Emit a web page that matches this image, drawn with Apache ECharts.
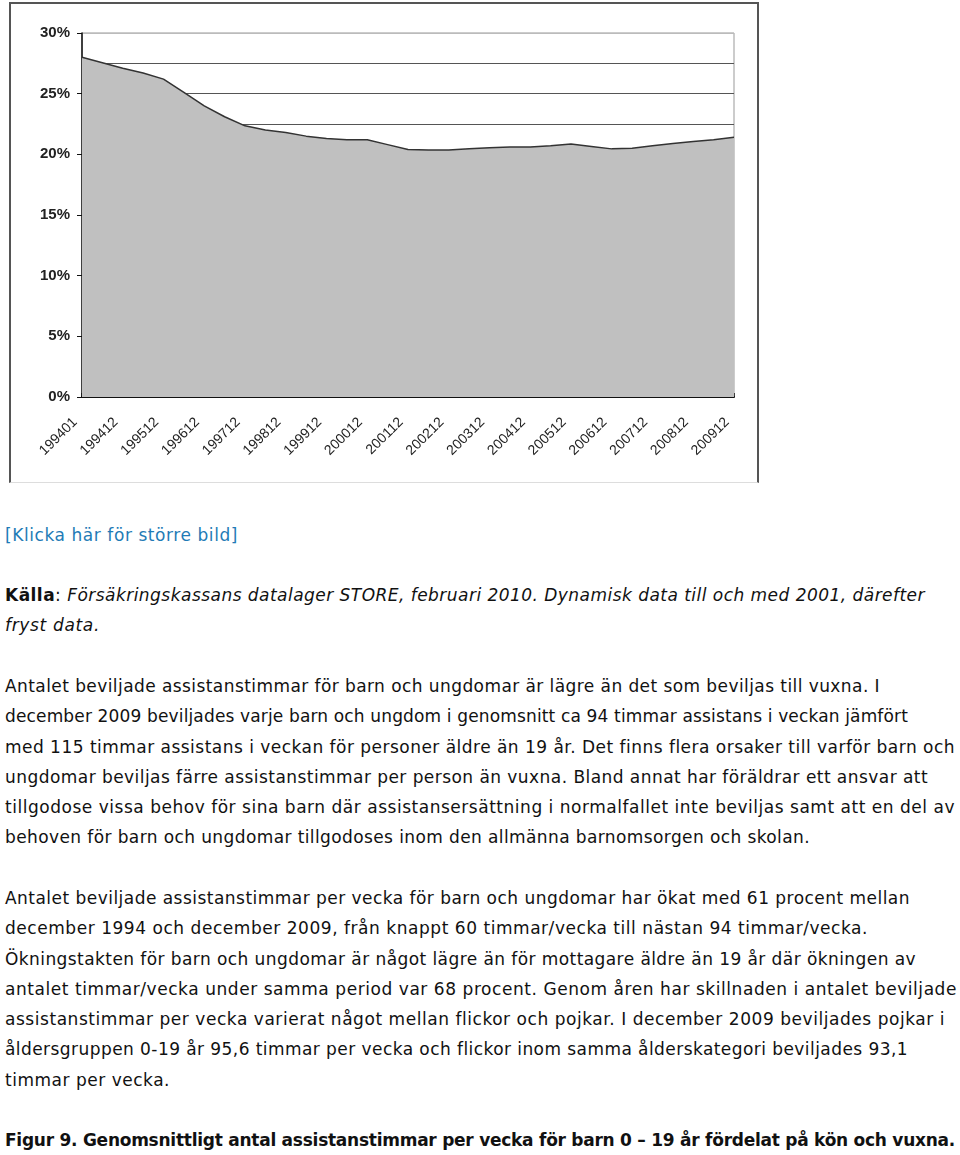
<!DOCTYPE html>
<html>
<head>
<meta charset="utf-8">
<script src="https://cdn.jsdelivr.net/npm/echarts@6/dist/echarts.min.js"></script>
<style>
  html, body { margin: 0; padding: 0; background: #fff; }
  body { width: 960px; height: 1155px; position: relative; overflow: hidden; font-family: "DejaVu Sans", sans-serif; color: #111; }
  #frame { position: absolute; left: 9px; top: 2px; width: 746px; height: 478px; border-left: 2px solid #555; border-top: 2px solid #555; border-right: 2px solid #555; border-bottom: 1px solid #ddd; }
  #chart { position: absolute; left: 0; top: 0; width: 960px; height: 490px; }
  .blk { position: absolute; left: 5px; font-size: 17px; line-height: 30.3px; }
  .ln { white-space: nowrap; display: block; }
  .link { color: #1f7bb6; }
  .fig { font-weight: bold; }
</style>
</head>
<body>
<div id="frame"></div>
<div id="chart"></div>

<div class="blk" style="top:520px"><span class="ln link" data-end="238">[Klicka här för större bild]</span></div>

<div class="blk" style="top:580px">
  <span class="ln" data-end="925"><b>Källa</b>: <i>Försäkringskassans datalager STORE, februari 2010. Dynamisk data till och med 2001, därefter</i></span>
  <span class="ln" data-end="100"><i>fryst data.</i></span>
</div>

<div class="blk" style="top:671px">
  <span class="ln" data-end="880">Antalet beviljade assistanstimmar för barn och ungdomar är lägre än det som beviljas till vuxna. I</span>
  <span class="ln" data-end="908">december 2009 beviljades varje barn och ungdom i genomsnitt ca 94 timmar assistans i veckan jämfört</span>
  <span class="ln" data-end="955">med 115 timmar assistans i veckan för personer äldre än 19 år. Det finns flera orsaker till varför barn och</span>
  <span class="ln" data-end="928">ungdomar beviljas färre assistanstimmar per person än vuxna. Bland annat har föräldrar ett ansvar att</span>
  <span class="ln" data-end="955">tillgodose vissa behov för sina barn där assistansersättning i normalfallet inte beviljas samt att en del av</span>
  <span class="ln" data-end="810">behoven för barn och ungdomar tillgodoses inom den allmänna barnomsorgen och skolan.</span>
</div>

<div class="blk" style="top:883px">
  <span class="ln" data-end="910">Antalet beviljade assistanstimmar per vecka för barn och ungdomar har ökat med 61 procent mellan</span>
  <span class="ln" data-end="868">december 1994 och december 2009, från knappt 60 timmar/vecka till nästan 94 timmar/vecka.</span>
  <span class="ln" data-end="916">Ökningstakten för barn och ungdomar är något lägre än för mottagare äldre än 19 år där ökningen av</span>
  <span class="ln" data-end="957">antalet timmar/vecka under samma period var 68 procent. Genom åren har skillnaden i antalet beviljade</span>
  <span class="ln" data-end="945">assistanstimmar per vecka varierat något mellan flickor och pojkar. I december 2009 beviljades pojkar i</span>
  <span class="ln" data-end="908">åldersgruppen 0-19 år 95,6 timmar per vecka och flickor inom samma ålderskategori beviljades 93,1</span>
  <span class="ln" data-end="170">timmar per vecka.</span>
</div>

<div class="blk" style="top:1125px"><span class="ln fig" data-end="955">Figur 9. Genomsnittligt antal assistanstimmar per vecka för barn 0 – 19 år fördelat på kön och vuxna.</span></div>

<script>
// ---- data ----
var categories = [
  "199401","199406","199412","199506","199512","199606","199612","199706","199712",
  "199806","199812","199906","199912","200006","200012","200106","200112",
  "200206","200212","200306","200312","200406","200412","200506","200512",
  "200606","200612","200706","200712","200806","200812","200906","200912"
];
var shareValues = [
  28.0, 27.55, 27.1, 26.7, 26.2, 25.1, 24.0, 23.1, 22.35,
  22.0, 21.8, 21.5, 21.3, 21.2, 21.2, 20.8, 20.4,
  20.35, 20.35, 20.45, 20.55, 20.6, 20.6, 20.7, 20.85,
  20.65, 20.45, 20.5, 20.7, 20.9, 21.05, 21.2, 21.4
];
var yTicks = [0, 5, 10, 15, 20, 25, 30];

var chart = echarts.init(document.getElementById('chart'), null, {renderer: 'canvas'});
chart.setOption({
  animation: false,
  grid: { left: 82, top: 33, width: 652, height: 364, show: true, borderColor: '#999', borderWidth: 1, backgroundColor: '#fff' },
  xAxis: {
    type: 'category',
    data: categories,
    boundaryGap: false,
    axisLine: { lineStyle: { color: '#111', width: 2 } },
    axisTick: { show: true, inside: true, length: 4, interval: 0, lineStyle: { color: '#111', width: 1.5 } },
    axisLabel: {
      interval: function (i) { return i % 2 === 0; },
      rotate: 45, margin: 16, padding: [0, 10, 0, 0],
      fontFamily: 'Liberation Sans, Arial', fontSize: 14, color: '#222'
    },
    splitLine: { show: false }
  },
  yAxis: {
    type: 'value',
    min: yTicks[0], max: yTicks[yTicks.length - 1], interval: 5,
    axisLine: { show: true, lineStyle: { color: '#111', width: 1.5 } },
    axisTick: { show: true, length: 5, lineStyle: { color: '#111' } },
    axisLabel: { formatter: '{value}%', margin: 12, fontFamily: 'Liberation Sans, Arial', fontSize: 15, fontWeight: 'bold', color: '#222' },
    splitLine: { show: true, lineStyle: { color: ['#555','#555','#555','#555','#555','#555','#bbb'], width: 1 } },
    minorTick: { show: false, splitNumber: 2 },
    minorSplitLine: { show: true, lineStyle: { color: '#555', width: 1 } }
  },
  series: [{
    type: 'line',
    data: shareValues,
    symbol: 'none',
    smooth: false,
    lineStyle: { color: '#333', width: 1.5 },
    areaStyle: { color: '#c0c0c0', opacity: 1 },
    z: 3
  }]
});

// fit text lines to their widths in the reference
function fit() {
  var lines = document.querySelectorAll('.ln');
  lines.forEach(function (el) {
    var target = parseFloat(el.getAttribute('data-end'));
    el.style.letterSpacing = '0px';
    el.style.display = 'inline-block';
    var r = el.getBoundingClientRect();
    var w = r.right;
    var n = el.textContent.length;
    if (n > 1) el.style.letterSpacing = ((target - w) / n) + 'px';
    el.style.display = 'block';
  });
}
if (document.fonts && document.fonts.ready) document.fonts.ready.then(fit); else fit();
fit();
</script>
</body>
</html>
